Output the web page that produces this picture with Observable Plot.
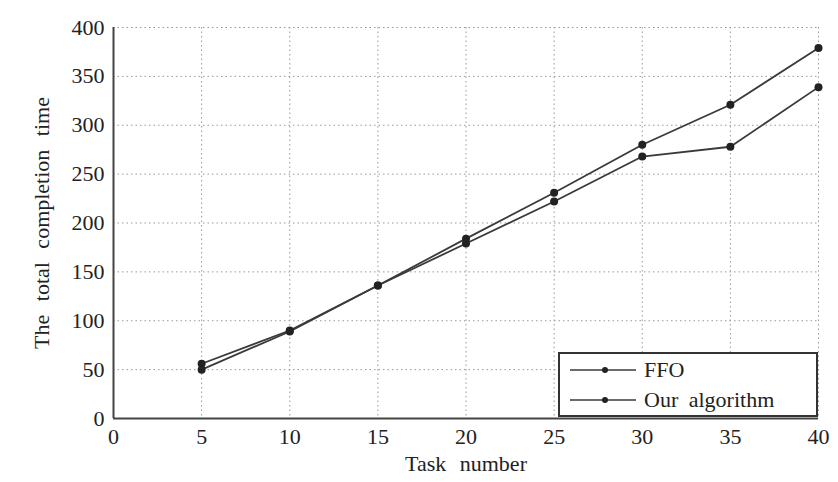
<!DOCTYPE html>
<html>
<head>
<meta charset="utf-8">
<script src="https://cdn.jsdelivr.net/npm/d3@7"></script>
<script src="https://cdn.jsdelivr.net/npm/@observablehq/plot@0.6"></script>
<style>
  html, body { margin: 0; padding: 0; background: #fff; }
  #wrap { position: relative; width: 838px; height: 482px; }
  .legend { position: absolute; left: 558px; top: 352px; width: 260px; height: 65px;
    border: 2px solid #333; background: #fff; box-sizing: border-box;
    font-family: "Liberation Serif", "DejaVu Serif", serif; font-size: 22px; color: #222; word-spacing: 5px; }
  .legend .row { position: absolute; left: 10px; display: flex; align-items: center; }
  .legend svg { margin-right: 8px; }
</style>
</head>
<body>
<div id="wrap"></div>
<script>
const taskNumbers = [5, 10, 15, 20, 25, 30, 35, 40];
const ffoValues = [56, 90, 136, 184, 231, 280, 321, 379];
const ourValues = [50, 89, 136, 179, 222, 268, 278, 339];
const seriesNames = ["FFO", "Our algorithm"];
const xTicks = [0, 5, 10, 15, 20, 25, 30, 35, 40];
const yTicks = [0, 50, 100, 150, 200, 250, 300, 350, 400];

const data = [
  ...taskNumbers.map((t, i) => ({ task: t, value: ffoValues[i], series: seriesNames[0] })),
  ...taskNumbers.map((t, i) => ({ task: t, value: ourValues[i], series: seriesNames[1] }))
];

const lineColor = "#3a3a3a";
const font = "'Liberation Serif', 'DejaVu Serif', serif";

const chart = Plot.plot({
  width: 838,
  height: 482,
  marginLeft: 113,
  marginRight: 20,
  marginTop: 27,
  marginBottom: 64,
  style: { fontFamily: font, fontSize: "22px", color: "#222", background: "#fff" },
  x: { domain: [0, 40], ticks: xTicks, label: null },
  y: { domain: [0, 400], ticks: yTicks, label: null },
  marks: [
    Plot.gridX(xTicks.filter(d => d > 0), { stroke: "#999", strokeOpacity: 1, strokeDasharray: "1.5,3", strokeWidth: 1 }),
    Plot.gridY(yTicks.filter(d => d > 0), { stroke: "#999", strokeOpacity: 1, strokeDasharray: "1.5,3", strokeWidth: 1 }),
    Plot.axisX(xTicks, { tickSize: 0, tickPadding: 10, fontSize: 22, label: null }),
    Plot.axisY(yTicks, { tickSize: 0, tickPadding: 9, fontSize: 22, label: null }),
    Plot.axisX({ ticks: [], tickSize: 0, label: "Task number", labelAnchor: "center", labelArrow: "none", labelOffset: 52, fontSize: 22 }),
    Plot.axisY({ ticks: [], tickSize: 0, label: "The total completion time", labelAnchor: "center", labelArrow: "none", labelOffset: 80, fontSize: 22 }),
    Plot.ruleX([0], { stroke: "#444", strokeWidth: 2 }),
    Plot.ruleY([0], { stroke: "#444", strokeWidth: 2 }),
    Plot.line(data, { x: "task", y: "value", z: "series", stroke: lineColor, strokeWidth: 1.8 }),
    Plot.dot(data, { x: "task", y: "value", fill: "#222", r: 4 })
  ]
});

const wrap = document.getElementById("wrap");
wrap.appendChild(chart);

d3.select(chart).selectAll("text").style("word-spacing", "8px");

const legend = document.createElement("div");
legend.className = "legend";
seriesNames.forEach((name, i) => {
  const row = document.createElement("div");
  row.className = "row";
  row.style.top = (3 + i * 30) + "px";
  row.innerHTML = `<svg width="66" height="12"><line x1="0" y1="6" x2="66" y2="6" stroke="${lineColor}" stroke-width="1.6"/><circle cx="35" cy="6" r="3" fill="#222"/></svg><span>${name}</span>`;
  legend.appendChild(row);
});
wrap.appendChild(legend);
</script>
</body>
</html>
